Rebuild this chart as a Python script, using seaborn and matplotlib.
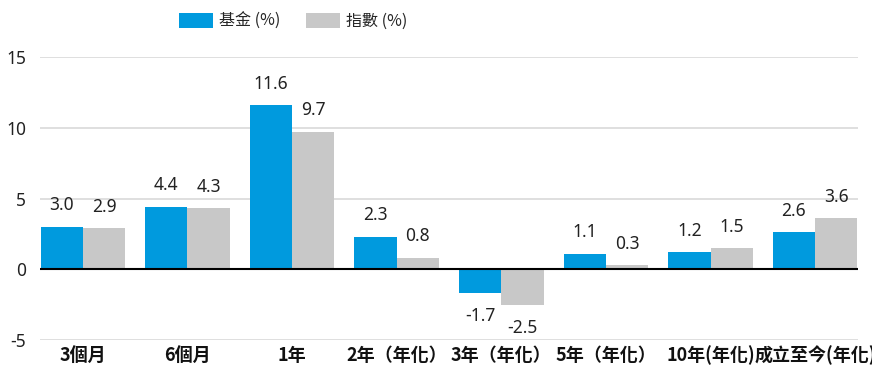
import matplotlib
matplotlib.use("Agg")
import matplotlib.pyplot as plt
import seaborn as sns
import pandas as pd

categories = ["3個月", "6個月", "1年", "2年（年化）", "3年（年化）", "5年（年化）", "10年(年化)", "成立至今(年化)"]
fund = [3.0, 4.4, 11.6, 2.3, -1.7, 1.1, 1.2, 2.6]
index = [2.9, 4.3, 9.7, 0.8, -2.5, 0.3, 1.5, 3.6]
series_names = ["基金 (%)", "指數 (%)"]
colors = ["#009ADE", "#C8C8C8"]

sns.set_theme(style="white")
plt.rcParams["font.family"] = ["Noto Sans", "Noto Sans CJK TC", "DejaVu Sans"]

df = pd.DataFrame({
    "cat": categories * 2,
    "val": fund + index,
    "series": [series_names[0]] * len(categories) + [series_names[1]] * len(categories),
})

fig = plt.figure(figsize=(8.72, 3.69), dpi=100)
ax = fig.add_axes([40 / 872, 29 / 369, 818 / 872, 283 / 369])

sns.barplot(data=df, x="cat", y="val", hue="series", palette=colors,
            order=categories, hue_order=series_names, width=0.81,
            saturation=1, linewidth=0, ax=ax, zorder=3)

ax.set_ylim(-5, 15)
ax.set_xlim(-0.41, len(categories) - 0.59)
ax.set_yticks([-5, 0, 5, 10, 15])
ax.set_yticklabels(["-5", "0", "5", "10", "15"])
ax.yaxis.grid(True, color="#D9D9D9", linewidth=1.2, zorder=0)
ax.set_axisbelow(True)
ax.axhline(0, color="black", linewidth=1.5, zorder=4)
for s in ax.spines.values():
    s.set_visible(False)
ax.set_xlabel("")
ax.set_ylabel("")
ax.tick_params(axis="y", length=0, labelsize=12.5, pad=10, labelcolor="#222222")
ax.tick_params(axis="x", length=0, labelsize=13, pad=4, labelcolor="#111111")
for t in ax.get_xticklabels():
    t.set_fontweight("bold")
    t.set_family(["Noto Sans CJK TC", "DejaVu Sans"])

for cont in ax.containers:
    for bar in cont:
        h = bar.get_height()
        x = bar.get_x() + bar.get_width() / 2
        if h >= 0:
            ax.annotate(f"{h:.1f}", (x, h), xytext=(0, 9), textcoords="offset points",
                        ha="center", va="bottom", fontsize=12.5, color="#222222")
        else:
            ax.annotate(f"{h:.1f}", (x, h), xytext=(0, -10), textcoords="offset points",
                        ha="center", va="top", fontsize=12.5, color="#222222")

ax.legend(loc="center", bbox_to_anchor=(0.31, 1.127), ncol=2, frameon=False,
          handlelength=2.1, handleheight=1.05, columnspacing=1.6,
          handletextpad=0.4, prop={"family": ["Noto Sans CJK TC"], "size": 11.5})

fig.savefig("out.png", dpi=100)
